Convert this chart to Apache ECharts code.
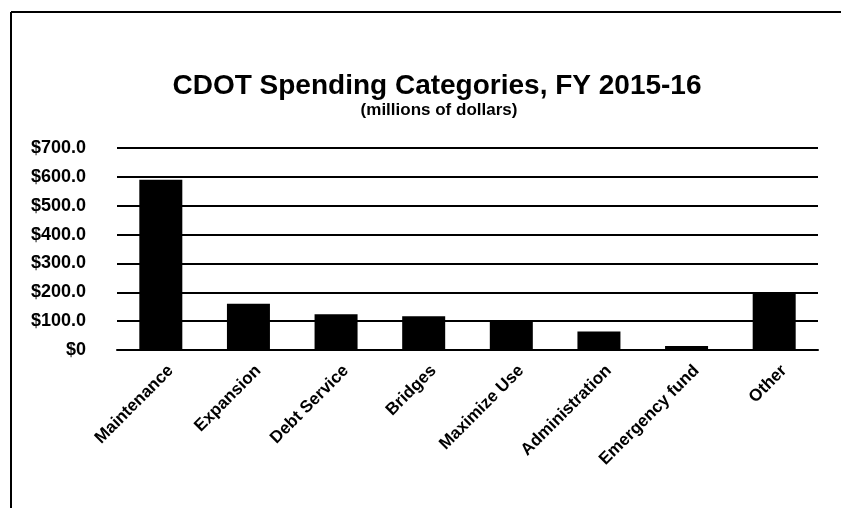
<!DOCTYPE html>
<html>
<head>
<meta charset="utf-8">
<title>CDOT Spending Categories</title>
<script src="https://cdn.jsdelivr.net/npm/echarts@6/dist/echarts.min.js"></script>
<style>
  html, body { margin: 0; padding: 0; background: #fff; }
  #chart { width: 841px; height: 508px; }
</style>
</head>
<body>
<div id="chart"></div>
<script>
// CDOT spending, FY 2015-16, millions of dollars
const categories = ['Maintenance', 'Expansion', 'Debt Service', 'Bridges', 'Maximize Use', 'Administration', 'Emergency fund', 'Other'];
const spending = [590, 160, 124, 117, 100, 64, 14, 197];
const yTickLabels = ['$0', '$100.0', '$200.0', '$300.0', '$400.0', '$500.0', '$600.0', '$700.0'];

const font = '"Liberation Sans", Arial, sans-serif';

let myChart = echarts.init(document.getElementById('chart'));

let option = {
  backgroundColor: '#fff',
  animation: false,
  title: [
    {
      text: 'CDOT Spending Categories, FY 2015-16',
      left: 432,
      top: 67,
      textAlign: 'center',
      textStyle: { fontFamily: font, fontWeight: 'bold', fontSize: 28, color: '#000' }
    },
    {
      text: '(millions of dollars)',
      left: 434,
      top: 97,
      textAlign: 'center',
      textStyle: { fontFamily: font, fontWeight: 'bold', fontSize: 17, color: '#000' }
    }
  ],
  graphic: [
    { type: 'line', shape: { x1: 11, y1: 12, x2: 841, y2: 12 }, style: { stroke: '#000', lineWidth: 2 } },
    { type: 'line', shape: { x1: 11, y1: 12, x2: 11, y2: 508 }, style: { stroke: '#000', lineWidth: 2 } }
  ],
  grid: { left: 117, right: 23, top: 148, bottom: 158 },
  xAxis: {
    type: 'category',
    data: categories,
    axisLine: { lineStyle: { color: '#000', width: 2 } },
    axisTick: { show: false },
    axisLabel: {
      interval: 0,
      rotate: 45,
      margin: 28,
      padding: [0, -14, 0, 0],
      fontFamily: font,
      fontWeight: 'bold',
      fontSize: 17,
      color: '#000'
    }
  },
  yAxis: {
    type: 'value',
    min: 0,
    max: 700,
    interval: 100,
    axisLine: { show: false },
    axisTick: { show: false },
    splitLine: { lineStyle: { color: '#000', width: 2 } },
    axisLabel: {
      margin: 31,
      fontFamily: font,
      fontWeight: 'bold',
      fontSize: 18,
      color: '#000',
      formatter: function (v) {
        return yTickLabels[Math.round(v / 100)];
      }
    }
  },
  series: [
    {
      type: 'bar',
      data: spending,
      barWidth: 43,
      itemStyle: { color: '#000' }
    }
  ]
};

myChart.setOption(option);
</script>
</body>
</html>
